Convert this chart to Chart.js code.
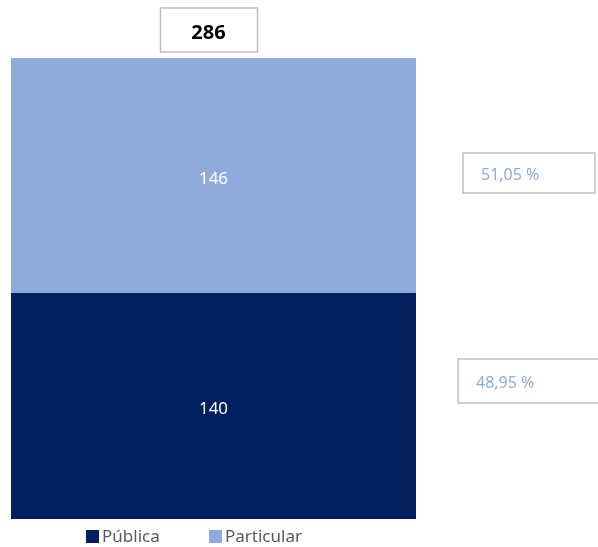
<!DOCTYPE html>
<html>
<head>
<meta charset="utf-8">
<script src="https://cdn.jsdelivr.net/npm/chart.js@4"></script>
<style>
    body { margin: 0; background: #ffffff; }
    canvas { display: block; }
</style>
</head>
<body>
<canvas id="tipoChart" width="598" height="547"></canvas>
<script>
// data
const categories = ['Total'];
const seriesNames = ['Pública', 'Particular'];
const publicaValues = [140];
const particularValues = [146];
const seriesColors = ['#002060', '#8FAADC'];

const FONT = '"Noto Sans", "Liberation Sans", sans-serif';

function fmtPct(v) {
    return v.toFixed(2).replace('.', ',') + ' %';
}

function boxLabel(ctx, x, y, w, h) {
    ctx.save();
    ctx.fillStyle = '#ffffff';
    ctx.fillRect(x, y, w, h);
    ctx.strokeStyle = '#BFBFBF';
    ctx.lineWidth = 1.5;
    ctx.strokeRect(x, y, w, h);
    ctx.restore();
}

// labels, total box, percentage boxes and legend
const labelsPlugin = {
    id: 'labelsPlugin',
    afterDatasetsDraw(chart) {
        const ctx = chart.ctx;
        const area = chart.chartArea;
        const total = publicaValues[0] + particularValues[0];

        ctx.save();
        ctx.textBaseline = 'middle';

        // values inside the segments
        chart.data.datasets.forEach((ds, i) => {
            const bar = chart.getDatasetMeta(i).data[0];
            ctx.fillStyle = '#ffffff';
            ctx.font = '17px ' + FONT;
            ctx.textAlign = 'center';
            ctx.fillText(String(ds.data[0]), bar.x, (bar.y + bar.base) / 2 + 3);
        });

        // total on top
        const top = chart.getDatasetMeta(1).data[0];
        boxLabel(ctx, top.x - 53, area.top - 50, 97, 44);
        ctx.fillStyle = '#000000';
        ctx.font = 'bold 20px ' + FONT;
        ctx.textAlign = 'center';
        ctx.fillText(String(total), top.x - 5, area.top - 25);

        // percentage boxes to the right
        const pcts = [
            { v: particularValues[0] / total * 100, x: 463, y: 153, w: 132, h: 40 },
            { v: publicaValues[0] / total * 100, x: 458, y: 359, w: 145, h: 44 }
        ];
        pcts.forEach(p => {
            boxLabel(ctx, p.x, p.y, p.w, p.h);
            ctx.fillStyle = '#8FAADC';
            ctx.font = '16px ' + FONT;
            ctx.textAlign = 'left';
            ctx.fillText(fmtPct(p.v), p.x + 18, p.y + p.h / 2 + 2);
        });

        // legend
        const legendItems = [
            { name: seriesNames[0], color: seriesColors[0], x: 86 },
            { name: seriesNames[1], color: seriesColors[1], x: 209 }
        ];
        legendItems.forEach(it => {
            ctx.fillStyle = it.color;
            ctx.fillRect(it.x, 530, 13, 13);
            ctx.fillStyle = '#595959';
            ctx.font = '17px ' + FONT;
            ctx.textAlign = 'left';
            ctx.fillText(it.name, it.x + 16, 537);
        });

        ctx.restore();
    }
};

const ctx = document.getElementById('tipoChart').getContext('2d');

new Chart(ctx, {
    type: 'bar',
    data: {
        labels: categories,
        datasets: [
            {
                label: seriesNames[0],
                data: publicaValues,
                backgroundColor: seriesColors[0],
                borderWidth: 0
            },
            {
                label: seriesNames[1],
                data: particularValues,
                backgroundColor: seriesColors[1],
                borderWidth: 0
            }
        ]
    },
    options: {
        responsive: false,
        animation: false,
        layout: {
            padding: { left: 11, right: 182, top: 58, bottom: 28 }
        },
        plugins: {
            legend: { display: false },
            tooltip: { enabled: false }
        },
        datasets: {
            bar: { barPercentage: 1, categoryPercentage: 1 }
        },
        scales: {
            x: { stacked: true, display: false },
            y: {
                stacked: true,
                display: false,
                min: 0,
                max: publicaValues[0] + particularValues[0]
            }
        }
    },
    plugins: [labelsPlugin]
});
</script>
</body>
</html>
